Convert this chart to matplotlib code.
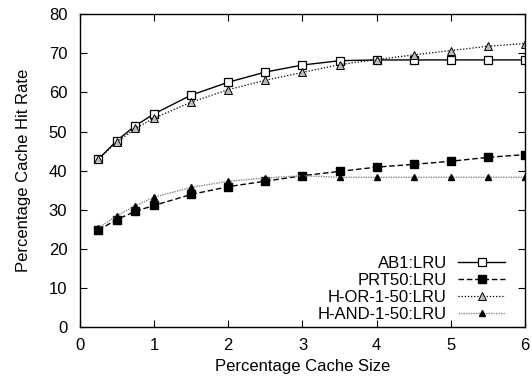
import numpy as np
import matplotlib
matplotlib.use('Agg')
from matplotlib import pyplot as plt

plt.rcParams['font.family'] = ['Liberation Sans', 'DejaVu Sans']

x = [0.25, 0.5, 0.75, 1, 1.5, 2, 2.5, 3, 3.5, 4, 4.5, 5, 5.5, 6]
ab1 = [42.9, 47.7, 51.5, 54.5, 59.3, 62.6, 65.2, 67.0, 68.1, 68.3, 68.3, 68.3, 68.3, 68.3]
prt50 = [24.8, 27.5, 29.6, 31.1, 33.9, 35.9, 37.3, 38.7, 39.8, 40.9, 41.6, 42.4, 43.4, 44.1]
h_or = [43.0, 47.3, 50.8, 53.4, 57.5, 60.7, 63.1, 65.1, 67.1, 68.4, 69.6, 70.7, 71.8, 72.5]
h_and = [25.3, 28.5, 31.0, 33.2, 35.7, 37.3, 38.1, 38.7, 38.3, 38.3, 38.3, 38.3, 38.3, 38.3]

fig = plt.figure(figsize=(5.32, 3.83), dpi=100)
ax = fig.add_axes([0.150, 0.146, 0.837, 0.817])

ax.plot(x, ab1, color='black', lw=1.0, ls='-', marker='s', ms=6,
        mfc='white', mec='black', mew=0.9, label='AB1:LRU')
ax.plot(x, prt50, color='black', lw=1.0, ls=(0, (4, 2)), marker='s', ms=6,
        mfc='black', mec='black', label='PRT50:LRU')
ax.plot(x, h_or, color='black', lw=0.9, ls=(0, (1, 1.5)), marker='^', ms=6,
        mfc='#bbbbbb', mec='black', mew=0.7, label='H-OR-1-50:LRU')
ax.plot(x, h_and, color='#888888', lw=1.0, ls=(0, (1, 0.8)), marker='^', ms=5,
        mfc='black', mec='black', label='H-AND-1-50:LRU')

ax.set_xlim(0, 6)
ax.set_ylim(0, 80)
ax.set_xticks(range(0, 7))
ax.set_yticks(range(0, 81, 10))
ax.tick_params(direction='in', top=True, right=True, length=5, labelsize=12)
ax.tick_params(axis='y', pad=9)
ax.tick_params(axis='x', pad=8)
for s in ax.spines.values():
    s.set_linewidth(1.0)

ax.set_xlabel('Percentage Cache Size', fontsize=12, labelpad=4)
ax.set_ylabel('Percentage Cache Hit Rate', fontsize=12, labelpad=13)

ax.legend(loc='lower right', bbox_to_anchor=(0.970, -0.005), frameon=False,
          markerfirst=False, fontsize=12, handlelength=2.8, labelspacing=0.12,
          borderaxespad=0, handletextpad=0.7, borderpad=0.4)

fig.savefig('out.png', dpi=100)
